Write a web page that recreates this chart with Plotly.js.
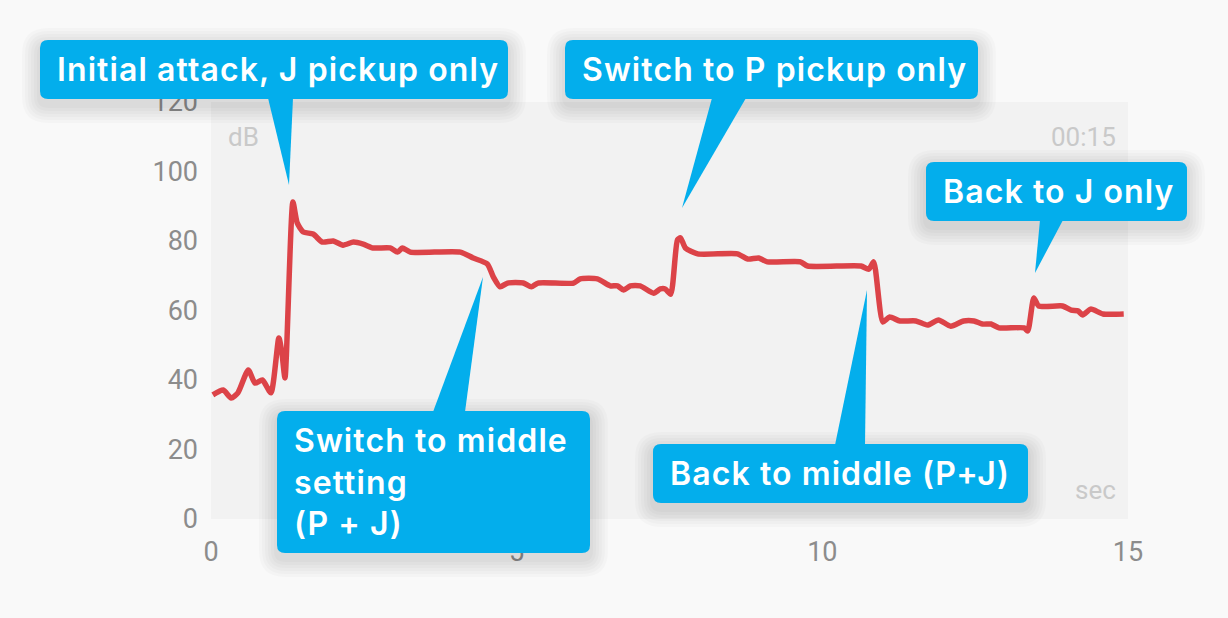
<!DOCTYPE html>
<html>
<head>
<meta charset="utf-8">
<script src="https://cdn.plot.ly/plotly-3.0.1.min.js"></script>
<style>
  html, body { margin: 0; padding: 0; background: #f9f9f9; }
  #chart { width: 1228px; height: 618px; }
</style>
</head>
<body>
<div id="chart"></div>
<script>
// ---- data ----
const timeSec = [0.03, 0.20, 0.33, 0.44, 0.61, 0.72, 0.84, 0.98, 1.11, 1.16, 1.21, 1.34, 1.41, 1.51, 1.67, 1.82,
  2.00, 2.16, 2.33, 2.49, 2.65, 2.93, 3.05, 3.13, 3.26, 4.08, 4.29, 4.52, 4.62, 4.73, 4.85, 5.11, 5.24, 5.35,
  5.93, 6.04, 6.32, 6.53, 6.65, 6.75, 6.86, 7.02, 7.24, 7.35, 7.43, 7.52, 7.63, 7.68, 7.76, 7.96, 8.61, 8.78,
  8.96, 9.10, 9.64, 9.76, 10.63, 10.76, 10.84, 10.99, 11.10, 11.27, 11.53, 11.72, 11.90, 12.10, 12.31, 12.48,
  12.62, 12.76, 12.89, 13.30, 13.36, 13.46, 13.54, 13.93, 14.07, 14.18, 14.26, 14.39, 14.59, 14.93];
const levelDb = [35.7, 37.1, 34.8, 36.3, 42.9, 39.1, 40.0, 36.3, 52.1, 47.8, 40.6, 91.2, 85.2, 82.6, 82.0, 79.7,
  80.0, 78.8, 79.7, 79.1, 78.0, 78.0, 76.8, 78.0, 76.8, 76.8, 75.1, 73.4, 69.6, 66.8, 67.9, 67.9, 66.8, 67.9,
  67.9, 69.1, 69.1, 67.1, 67.1, 65.9, 67.1, 67.1, 65.0, 66.2, 66.2, 64.7, 80.3, 80.9, 78.0, 76.3, 76.3, 74.8,
  75.1, 74.0, 74.0, 72.8, 72.8, 71.9, 74.0, 56.7, 58.1, 57.0, 57.0, 55.8, 57.3, 55.5, 57.0, 57.0,
  56.1, 56.1, 55.0, 55.0, 54.1, 63.6, 61.3, 61.3, 60.1, 59.9, 58.7, 60.4, 59.0, 59.0];
const xTickVals = [0, 5, 10, 15];
const yTickVals = [0, 20, 40, 60, 80, 100, 120];
const calloutTexts = [
  'Initial attack, J pickup only',
  'Switch to P pickup only',
  'Back to J only',
  'Switch to middle<br>setting<br>(P + J)',
  'Back to middle (P+J)'
];

// ---- layout geometry (pixels) ----
const L = 211, R = 1128, T = 102, B = 519;
const W = R - L, H = B - T;
const px = x => (x - L) / W;
const py = y => (B - y) / H;

const callouts = [
  {box: [40, 40, 508, 99],   ptr: [[268, 98], [293, 98], [289, 185]]},
  {box: [565, 40, 978, 99],  ptr: [[712, 98], [746, 98], [682, 208]]},
  {box: [926, 162, 1187, 221], ptr: [[1040, 220], [1063, 220], [1035, 273]]},
  {box: [277, 411, 590, 553], ptr: [[433, 412], [465, 412], [483, 277]]},
  {box: [653, 444, 1028, 503], ptr: [[835, 445], [865, 445], [867, 290]]}
];

function rrPath(x0, y0, x1, y1, r) {
  const P = (x, y) => px(x).toFixed(5) + ',' + py(y).toFixed(5);
  return 'M' + P(x0 + r, y0) + ' L' + P(x1 - r, y0) + ' Q' + P(x1, y0) + ' ' + P(x1, y0 + r) +
    ' L' + P(x1, y1 - r) + ' Q' + P(x1, y1) + ' ' + P(x1 - r, y1) +
    ' L' + P(x0 + r, y1) + ' Q' + P(x0, y1) + ' ' + P(x0, y1 - r) +
    ' L' + P(x0, y0 + r) + ' Q' + P(x0, y0) + ' ' + P(x0 + r, y0) + ' Z';
}
function triPath(pts) {
  return 'M' + pts.map(p => px(p[0]).toFixed(5) + ',' + py(p[1]).toFixed(5)).join(' L') + ' Z';
}

const BLUE = '#03aeec';
const shapes = [];
const annotations = [];

// soft shadows first
callouts.forEach(c => {
  const [x0, y0, x1, y1] = c.box;
  for (let k = 1; k <= 6; k++) {
    const s = k * 3;
    shapes.push({type: 'path', xref: 'paper', yref: 'paper', layer: 'above',
      path: rrPath(x0 - s, y0 - s + 6, x1 + s, y1 + s + 6, 8 + s),
      fillcolor: 'rgba(0,0,0,0.018)', line: {width: 0}});
  }
});
callouts.forEach((c, i) => {
  const [x0, y0, x1, y1] = c.box;
  shapes.push({type: 'path', xref: 'paper', yref: 'paper', layer: 'above',
    path: triPath(c.ptr), fillcolor: BLUE, line: {width: 0}});
  shapes.push({type: 'path', xref: 'paper', yref: 'paper', layer: 'above',
    path: rrPath(x0, y0, x1, y1, 8), fillcolor: BLUE, line: {width: 0}});
  annotations.push({xref: 'paper', yref: 'paper', x: px(x0 + 15), y: py((y0 + y1) / 2),
    xanchor: 'left', yanchor: 'middle', align: 'left', showarrow: false, text: calloutTexts[i],
    font: {family: 'Inter', size: 32, color: '#ffffff', weight: 600}});
});

// corner labels inside the plot
const cornerFont = {family: 'Roboto', size: 26, color: '#c9c9c9'};
annotations.push({xref: 'paper', yref: 'paper', x: px(226), y: py(137), xanchor: 'left', yanchor: 'middle',
  showarrow: false, text: 'dB', font: cornerFont});
annotations.push({xref: 'paper', yref: 'paper', x: px(1118), y: py(137), xanchor: 'right', yanchor: 'middle',
  showarrow: false, text: '00:15', font: cornerFont});
annotations.push({xref: 'paper', yref: 'paper', x: px(1118), y: py(490), xanchor: 'right', yanchor: 'middle',
  showarrow: false, text: 'sec', font: cornerFont});

const trace = {
  x: timeSec, y: levelDb, type: 'scatter', mode: 'lines',
  line: {color: '#dc4348', width: 5.5, shape: 'spline', smoothing: 0.6},
  hoverinfo: 'skip'
};

const tickFont = {family: 'Roboto', size: 27, color: '#8c8c8c'};
const layout = {
  width: 1228, height: 618,
  margin: {l: L, r: 1228 - R, t: T, b: 618 - B, pad: 0},
  paper_bgcolor: '#f9f9f9',
  plot_bgcolor: '#f2f2f2',
  showlegend: false,
  xaxis: {range: [0, 15], tickmode: 'array', tickvals: xTickVals, showgrid: false, zeroline: false,
    showline: false, ticks: '', tickfont: tickFont, ticklabelstandoff: 14, fixedrange: true},
  yaxis: {range: [0, 120], tickmode: 'array', tickvals: yTickVals, showgrid: false, zeroline: false,
    showline: false, ticks: '', tickfont: tickFont, ticklabelstandoff: 12, fixedrange: true},
  shapes: shapes,
  annotations: annotations
};

Plotly.newPlot('chart', [trace], layout, {displayModeBar: false, staticPlot: true}).then(gd => {
  // widen the callout lettering slightly to match the reference typeface
  gd.querySelectorAll('.annotation').forEach(g => {
    const idx = +g.getAttribute('data-index');
    if (idx < calloutTexts.length) {
      g.querySelectorAll('text').forEach(t => { t.style.letterSpacing = '1.1px'; });
    }
  });
});
</script>
</body>
</html>
